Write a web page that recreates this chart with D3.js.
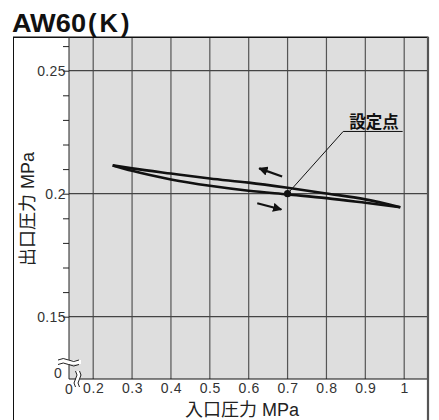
<!DOCTYPE html>
<html><head><meta charset="utf-8">
<script src="https://cdn.jsdelivr.net/npm/d3@7"></script>
<style>
html,body{margin:0;padding:0;background:#fff;}
svg{display:block;}
</style></head>
<body>
<svg id="c" width="439" height="420"></svg>
<script>
// ---- data ----
const title = "AW60";
const titleSuffix = "(K)";
const xTickValues = [0.2, 0.3, 0.4, 0.5, 0.6, 0.7, 0.8, 0.9, 1.0];
const xTickLabels = ["0.2", "0.3", "0.4", "0.5", "0.6", "0.7", "0.8", "0.9", "1"];
const yMajorTicks = [0.15, 0.2, 0.25];
const yTickLabels = ["0.15", "0.2", "0.25"];
const yMinorTicks = [0.16, 0.17, 0.18, 0.19, 0.21, 0.22, 0.23, 0.24, 0.26];
const inletPressure = [0.25, 0.3, 0.4, 0.5, 0.6, 0.7, 0.8, 0.9, 0.99];
const outletDecreasing = [0.2115, 0.2103, 0.2082, 0.2062, 0.2045, 0.2024, 0.2001, 0.1977, 0.1945];
const outletIncreasing = [0.2115, 0.2093, 0.2058, 0.2032, 0.2012, 0.1997, 0.1982, 0.1963, 0.1945];
const setPoint = [0.7, 0.2];
const setPointLabel = "設定点";
const xTitle = ["入口圧力", "MPa"];
const yTitle = ["出口圧力", "MPa"];

// ---- layout ----
const svg = d3.select("#c");
const L = 69, R = 428, T = 37, B = 379;
const x = d3.scaleLinear().domain([0.2, 1.0]).range([93.2, 404.2]);
const y = d3.scaleLinear().domain([0.15, 0.25]).range([316.7, 70.7]);
const latin = "'Liberation Sans', Arial, sans-serif";
const cjk = "'Noto Sans CJK JP', 'Noto Sans CJK SC', sans-serif";

// title
const tt = svg.append("text").attr("x", 12).attr("y", 32)
  .attr("font-family", latin).attr("font-weight", "bold").attr("font-size", 25.5)
  .attr("fill", "#111");
tt.append("tspan").text(title).attr("textLength", 74).attr("lengthAdjust","spacingAndGlyphs");
tt.append("tspan").attr("dx", 2).text(titleSuffix).attr("letter-spacing", 3);

// outer frame
svg.append("rect").attr("x", 13.5).attr("y", T).attr("width", R - 13.5).attr("height", 430 - T)
  .attr("fill", "#fff").attr("stroke", "#111").attr("stroke-width", 1);

// plot area
svg.append("rect").attr("x", L).attr("y", T).attr("width", R - L).attr("height", B - T)
  .attr("fill", "#dedede");

// vertical grid
svg.append("g").selectAll("line").data(xTickValues).join("line")
  .attr("x1", d => x(d)).attr("x2", d => x(d)).attr("y1", T).attr("y2", B)
  .attr("stroke", "#555").attr("stroke-width", 1.2);
// horizontal grid
svg.append("g").selectAll("line").data(yMajorTicks).join("line")
  .attr("x1", L).attr("x2", R).attr("y1", d => y(d)).attr("y2", d => y(d))
  .attr("stroke", "#444").attr("stroke-width", 1.2);

// frame lines of plot
svg.append("line").attr("x1", 13.5).attr("x2", R).attr("y1", T + 0.5).attr("y2", T + 0.5).attr("stroke", "#111");
svg.append("line").attr("x1", L).attr("x2", R).attr("y1", B).attr("y2", B).attr("stroke", "#111").attr("stroke-width", 1.2);
svg.append("line").attr("x1", R).attr("x2", R).attr("y1", T).attr("y2", 425).attr("stroke", "#555").attr("stroke-width", 2.2);
svg.append("line").attr("x1", L).attr("x2", L).attr("y1", T).attr("y2", B).attr("stroke", "#222").attr("stroke-width", 1);

// y axis
const yAxis = d3.axisLeft(y).tickValues(yMajorTicks.concat(yMinorTicks)).tickSize(6)
  .tickFormat(d => { const i = yMajorTicks.indexOf(d); return i >= 0 ? yTickLabels[i] : ""; });
const gy = svg.append("g").attr("transform", `translate(${L},0)`).call(yAxis);
gy.select(".domain").remove();
gy.selectAll(".tick line").attr("stroke", "#222");
gy.selectAll(".tick text").attr("font-family", latin).attr("font-size", 14).attr("letter-spacing", 0.4)
  .attr("fill", "#333").attr("x", -3);

// x axis labels
const xAxis = d3.axisBottom(x).tickValues(xTickValues).tickSize(0)
  .tickFormat((d, i) => xTickLabels[i]);
const gx = svg.append("g").attr("transform", `translate(0,${B})`).call(xAxis);
gx.select(".domain").remove();
gx.selectAll(".tick text").attr("font-family", latin).attr("font-size", 14).attr("letter-spacing", 0.6)
  .attr("fill", "#333").attr("dy", "0.71em").attr("y", 4);

// zero labels at the axis break
svg.append("text").attr("x", L).attr("y", B + 15).attr("text-anchor", "middle")
  .attr("font-family", latin).attr("font-size", 14).attr("fill", "#333").text("0");
svg.append("text").attr("x", L - 11).attr("y", B - 1).attr("text-anchor", "middle")
  .attr("font-family", latin).attr("font-size", 14).attr("fill", "#333").text("0");

// break marks
function wavyH(yy, x0, x1) {
  const w = (x1 - x0) / 2;
  return `M${x0},${yy} q${w/2},-3 ${w},0 t${w},0`;
}
function wavyV(xx, y0, y1) {
  const h = (y1 - y0) / 2;
  return `M${xx},${y0} q3,${h/2} 0,${h} t0,${h}`;
}
svg.append("rect").attr("x", L - 12).attr("y", 360).attr("width", 24).attr("height", 4).attr("fill", "#fff");
svg.append("path").attr("d", wavyH(360, L - 11, L + 10)).attr("fill", "none").attr("stroke", "#222").attr("stroke-width", 1);
svg.append("path").attr("d", wavyH(364.5, L - 11, L + 10)).attr("fill", "none").attr("stroke", "#222").attr("stroke-width", 1);
svg.append("rect").attr("x", L + 7).attr("y", 371).attr("width", 4).attr("height", 15).attr("fill", "#fff");
svg.append("path").attr("d", wavyV(L + 6.5, 371, 387)).attr("fill", "none").attr("stroke", "#222").attr("stroke-width", 1);
svg.append("path").attr("d", wavyV(L + 10.5, 371, 387)).attr("fill", "none").attr("stroke", "#222").attr("stroke-width", 1);

// hysteresis curves
const line = d3.line().x(d => x(d[0])).y(d => y(d[1])).curve(d3.curveMonotoneX);
const upper = inletPressure.map((p, i) => [p, outletDecreasing[i]]);
const lower = inletPressure.map((p, i) => [p, outletIncreasing[i]]);
[upper, lower].forEach(pts => {
  svg.append("path").attr("d", line(pts)).attr("fill", "none")
    .attr("stroke", "#111").attr("stroke-width", 2.6).attr("stroke-linejoin", "round");
});

// arrows
const defs = svg.append("defs");
defs.append("marker").attr("id", "ah").attr("viewBox", "0 0 10 10").attr("refX", 9).attr("refY", 5)
  .attr("markerWidth", 4.2).attr("markerHeight", 4.2).attr("orient", "auto")
  .append("path").attr("d", "M0,0 L10,5 L0,10 z").attr("fill", "#111");
const arrows = [
  [[0.686, 0.2070], [0.627, 0.2103]],
  [[0.622, 0.1961], [0.684, 0.1936]]
];
arrows.forEach(a => {
  svg.append("line").attr("x1", x(a[0][0])).attr("y1", y(a[0][1]))
    .attr("x2", x(a[1][0])).attr("y2", y(a[1][1]))
    .attr("stroke", "#111").attr("stroke-width", 2.2).attr("marker-end", "url(#ah)");
});

// set point and leader
const labelAnchor = [0.843, 0.2253];
const labelEnd = 0.996;
svg.append("polyline").attr("points", [
    [x(setPoint[0]), y(setPoint[1])], [x(labelAnchor[0]), y(labelAnchor[1])], [x(labelEnd), y(labelAnchor[1])]
  ].map(p => p.join(",")).join(" "))
  .attr("fill", "none").attr("stroke", "#111").attr("stroke-width", 1);
svg.append("circle").attr("cx", x(setPoint[0])).attr("cy", y(setPoint[1])).attr("r", 3.6).attr("fill", "#111");
svg.append("text").attr("x", (x(labelAnchor[0]) + x(labelEnd)) / 2 + 1).attr("y", y(labelAnchor[1]) - 3.5)
  .attr("text-anchor", "middle").attr("font-family", cjk).attr("font-weight", "bold")
  .attr("font-size", 16.5).attr("fill", "#111").text(setPointLabel);

// axis titles
function axisTitle(sel, parts) {
  sel.attr("text-anchor", "middle").attr("fill", "#222").attr("font-size", 18);
  sel.append("tspan").attr("font-family", cjk).text(parts[0]);
  sel.append("tspan").attr("font-family", latin).attr("dx", 5).text(parts[1]);
}
axisTitle(svg.append("text").attr("x", 242).attr("y", 416), xTitle);
axisTitle(svg.append("text").attr("transform", "translate(34,209) rotate(-90)"), yTitle);
</script>
</body></html>
